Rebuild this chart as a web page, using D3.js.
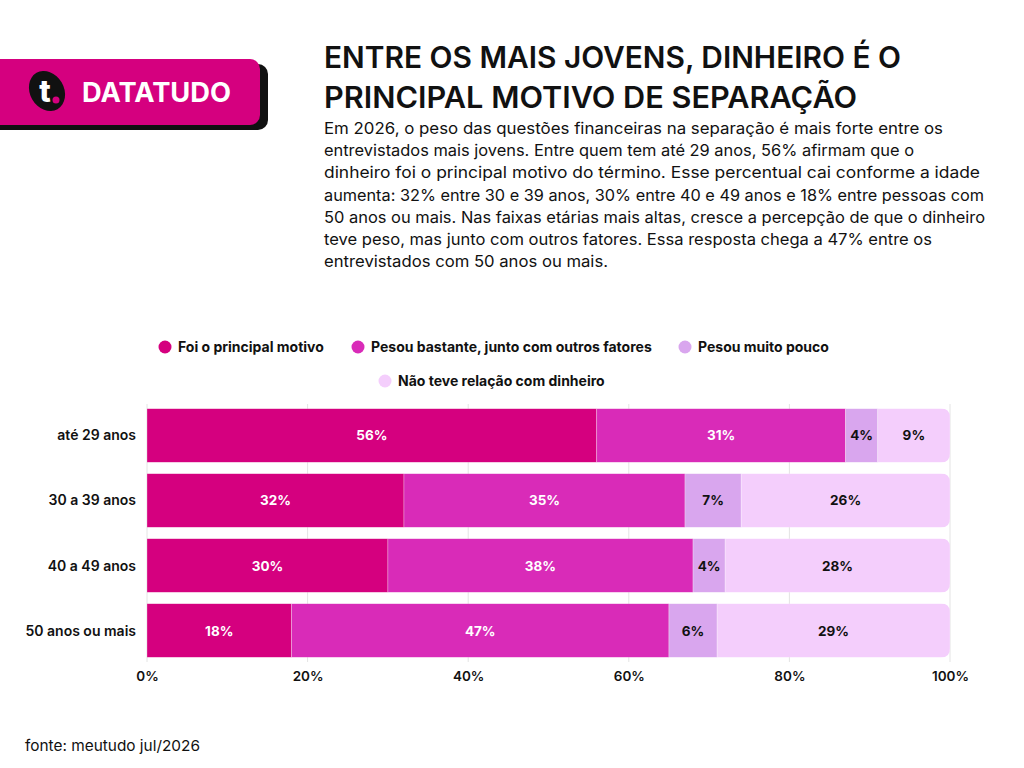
<!DOCTYPE html>
<html>
<head>
<meta charset="utf-8">
<script src="https://cdn.jsdelivr.net/npm/d3@7"></script>
<style>
  body { margin: 0; background: #fff; }
  svg { display: block; font-family: Inter, "Noto Sans", sans-serif; }
</style>
</head>
<body>
<div class="chart"></div>
<script>
const categories = ['até 29 anos', '30 a 39 anos', '40 a 49 anos', '50 anos ou mais'];
const seriesNames = [
  'Foi o principal motivo',
  'Pesou bastante, junto com outros fatores',
  'Pesou muito pouco',
  'Não teve relação com dinheiro'
];
const principal = [56, 32, 30, 18];
const bastante = [31, 35, 38, 47];
const pouco = [4, 7, 4, 6];
const semRelacao = [9, 26, 28, 29];
const ticks = [0, 20, 40, 60, 80, 100];

const colors = ['#d5007f', '#d92bb8', '#d9a6ee', '#f4cefc'];
const labelColors = ['#fff', '#fff', '#111', '#111'];

const width = 1024;
const height = 768;

const svg = d3
  .select('.chart')
  .append('svg')
  .attr('width', width)
  .attr('height', height);

// logo
const logo = svg.append('g');
logo.append('rect')
  .attr('x', -20).attr('y', 64).attr('width', 288).attr('height', 66)
  .attr('rx', 10).attr('fill', '#111');
logo.append('rect')
  .attr('x', -20).attr('y', 59).attr('width', 280).attr('height', 66)
  .attr('rx', 10).attr('fill', '#d5007f');
logo.append('ellipse')
  .attr('cx', 47).attr('cy', 91).attr('rx', 17).attr('ry', 21)
  .attr('transform', 'rotate(-30,47,91)')
  .attr('fill', '#111');
logo.append('text')
  .attr('x', 45).attr('y', 102)
  .attr('text-anchor', 'middle')
  .attr('fill', '#fff').attr('font-size', 30).attr('font-weight', 800)
  .text('t');
logo.append('circle')
  .attr('cx', 56).attr('cy', 100).attr('r', 3.5).attr('fill', '#d5007f');
logo.append('text')
  .attr('x', 82).attr('y', 102)
  .attr('fill', '#fff').attr('font-size', 27).attr('font-weight', 700)
  .attr('textLength', 149).attr('lengthAdjust', 'spacingAndGlyphs')
  .text('DATATUDO');

// title
const title = ['ENTRE OS MAIS JOVENS, DINHEIRO É O', 'PRINCIPAL MOTIVO DE SEPARAÇÃO'];
svg.selectAll('.title')
  .data(title)
  .enter()
  .append('text')
  .attr('class', 'title')
  .attr('x', 324)
  .attr('y', (d, i) => 68 + i * 40)
  .attr('font-size', 29.5)
  .attr('font-weight', 600)
  .attr('fill', '#111')
  .attr('textLength', (d, i) => [577, 533][i])
  .attr('lengthAdjust', 'spacingAndGlyphs')
  .text((d) => d);

const paragraph = [
  'Em 2026, o peso das questões financeiras na separação é mais forte entre os',
  'entrevistados mais jovens. Entre quem tem até 29 anos, 56% afirmam que o',
  'dinheiro foi o principal motivo do término. Esse percentual cai conforme a idade',
  'aumenta: 32% entre 30 e 39 anos, 30% entre 40 e 49 anos e 18% entre pessoas com',
  '50 anos ou mais. Nas faixas etárias mais altas, cresce a percepção de que o dinheiro',
  'teve peso, mas junto com outros fatores. Essa resposta chega a 47% entre os',
  'entrevistados com 50 anos ou mais.'
];
svg.selectAll('.para')
  .data(paragraph)
  .enter()
  .append('text')
  .attr('class', 'para')
  .attr('x', 324)
  .attr('y', (d, i) => 134 + i * 22.2)
  .attr('font-size', 16)
  .attr('fill', '#111')
  .attr('textLength', (d, i) => [619, 590, 656, 660, 661, 608, 284][i])
  .attr('lengthAdjust', 'spacingAndGlyphs')
  .text((d) => d);

// legend
const legendPos = [
  { x: 165, y: 347 },
  { x: 358, y: 347 },
  { x: 685, y: 347 },
  { x: 385, y: 381 }
];
const legend = svg.selectAll('.legend')
  .data(seriesNames)
  .enter()
  .append('g')
  .attr('class', 'legend')
  .attr('transform', (d, i) => `translate(${legendPos[i].x},${legendPos[i].y})`);
legend.append('circle')
  .attr('r', 6.5)
  .attr('fill', (d, i) => colors[i]);
legend.append('text')
  .attr('x', 13)
  .attr('y', 5)
  .attr('font-size', 14)
  .attr('font-weight', 700)
  .attr('fill', '#111')
  .text((d) => d);

// chart
const x = d3.scaleLinear().domain([0, 100]).range([147, 950]);
const y = d3.scaleBand().domain(categories).range([402, 664]).paddingInner(0.17).paddingOuter(0.1);

svg.append('g')
  .selectAll('line')
  .data(ticks)
  .enter()
  .append('line')
  .attr('x1', (d) => x(d)).attr('x2', (d) => x(d))
  .attr('y1', 404).attr('y2', 662)
  .attr('stroke', '#e4e4e4')
  .attr('stroke-width', 1);

const rows = categories.map((c, i) => {
  const vals = [principal[i], bastante[i], pouco[i], semRelacao[i]];
  let acc = 0;
  return vals.map((v, k) => {
    const seg = { cat: c, k: k, v: v, x0: acc, x1: acc + v };
    acc += v;
    return seg;
  });
});

const defs = svg.append('defs');
categories.forEach((c, i) => {
  const x0 = x(0), x1 = x(100), y0 = y(c), h = y.bandwidth(), r = 9;
  defs.append('clipPath')
    .attr('id', 'clip' + i)
    .append('path')
    .attr('d', `M${x0},${y0}H${x1 - r}Q${x1},${y0} ${x1},${y0 + r}V${y0 + h - r}Q${x1},${y0 + h} ${x1 - r},${y0 + h}H${x0}Z`);
});

const rowG = svg.selectAll('.row')
  .data(rows)
  .enter()
  .append('g')
  .attr('class', 'row')
  .attr('clip-path', (d, i) => `url(#clip${i})`);

rowG.selectAll('rect')
  .data((d) => d)
  .enter()
  .append('rect')
  .attr('x', (d) => x(d.x0))
  .attr('width', (d) => x(d.x1) - x(d.x0))
  .attr('y', (d) => y(d.cat))
  .attr('height', y.bandwidth())
  .attr('fill', (d) => colors[d.k])
  .attr('stroke', 'rgba(255,255,255,0.35)')
  .attr('stroke-width', 0.8);

svg.selectAll('.row-labels')
  .data(rows)
  .enter()
  .append('g')
  .selectAll('text')
  .data((d) => d)
  .enter()
  .append('text')
  .attr('x', (d) => (x(d.x0) + x(d.x1)) / 2)
  .attr('y', (d) => y(d.cat) + y.bandwidth() / 2 + 5)
  .attr('text-anchor', 'middle')
  .attr('font-size', 13.5)
  .attr('font-weight', 700)
  .attr('fill', (d) => labelColors[d.k])
  .text((d) => d.v + '%');

// category labels
svg.selectAll('.cat')
  .data(categories)
  .enter()
  .append('text')
  .attr('class', 'cat')
  .attr('x', 136)
  .attr('y', (d) => y(d) + y.bandwidth() / 2 + 5)
  .attr('text-anchor', 'end')
  .attr('font-size', 14)
  .attr('font-weight', 600)
  .attr('fill', '#111')
  .text((d) => d);

// x axis
const axis = svg.append('g')
  .attr('transform', 'translate(0,664)')
  .call(d3.axisBottom(x).tickValues(ticks).tickSize(0).tickPadding(7).tickFormat((d) => d + '%'));
axis.select('.domain').remove();
axis.selectAll('text')
  .attr('font-family', 'Inter, "Noto Sans", sans-serif')
  .attr('font-size', 13.5)
  .attr('font-weight', 600)
  .attr('fill', '#111');

svg.append('text')
  .attr('x', 25)
  .attr('y', 751)
  .attr('font-size', 15)
  .attr('fill', '#111')
  .attr('textLength', 175)
  .attr('lengthAdjust', 'spacingAndGlyphs')
  .text('fonte: meutudo jul/2026');
</script>
</body>
</html>
